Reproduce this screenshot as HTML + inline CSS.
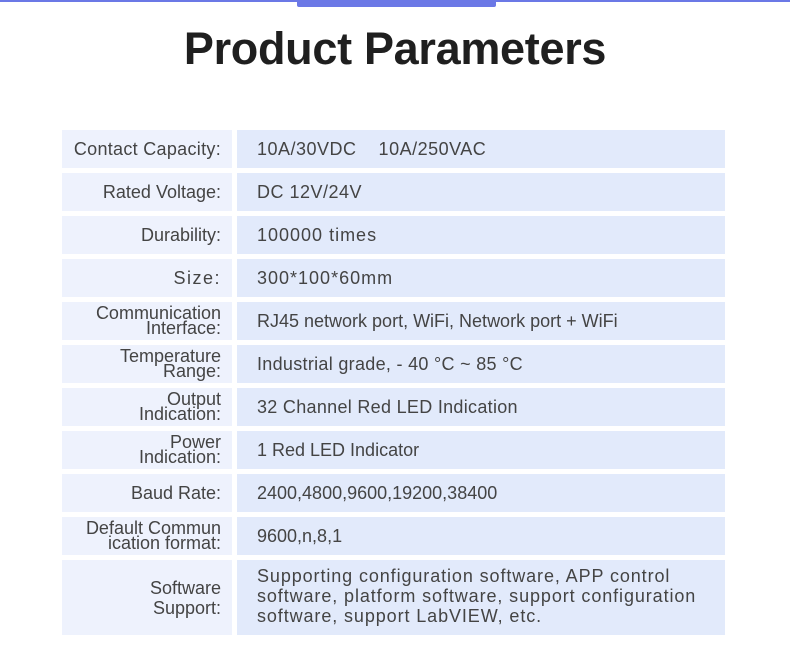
<!DOCTYPE html>
<html><head><meta charset="utf-8"><style>
*{margin:0;padding:0;box-sizing:border-box}
body{width:790px;height:669px;background:#fff;position:relative;overflow:hidden;font-family:"Liberation Sans",sans-serif;color:#444}
.topline{position:absolute;left:0;top:0;width:790px;height:2px;background:#6b78e6}
.tab{position:absolute;left:297px;top:0;width:199px;height:7px;background:#6b78e6;border-radius:0 0 2px 2px}
h1{position:absolute;top:23px;left:0;width:790px;text-align:center;font-size:45px;font-weight:bold;color:#1f1f1f;letter-spacing:-0.3px}
.l,.v{position:absolute;display:flex;align-items:center}
.l{left:62px;width:170px;background:#eef2fd;justify-content:flex-end;text-align:right;padding-right:11px;font-size:18px;line-height:15px;white-space:nowrap}
.v{left:237px;width:488px;background:#e2eafb;padding-left:20px;font-size:18px;line-height:20px}
</style></head><body>
<div class="topline"></div><div class="tab"></div>
<h1>Product Parameters</h1>

<div class="l" style="top:130px;height:38px;letter-spacing:0.3px">Contact Capacity:</div>
<div class="v" style="top:130px;height:38px;letter-spacing:0.5px">10A/30VDC&nbsp;&nbsp;&nbsp;&nbsp;10A/250VAC</div>

<div class="l" style="top:173px;height:38px">Rated Voltage:</div>
<div class="v" style="top:173px;height:38px;letter-spacing:0.5px">DC 12V/24V</div>

<div class="l" style="top:216px;height:38px">Durability:</div>
<div class="v" style="top:216px;height:38px;letter-spacing:1px">100000 times</div>

<div class="l" style="top:259px;height:38px;letter-spacing:1.5px">Size:</div>
<div class="v" style="top:259px;height:38px;letter-spacing:1px">300*100*60mm</div>

<div class="l" style="top:302px;height:38px">Communication<br>Interface:</div>
<div class="v" style="top:302px;height:38px">RJ45 network port, WiFi, Network port + WiFi</div>

<div class="l" style="top:345px;height:38px">Temperature<br>Range:</div>
<div class="v" style="top:345px;height:38px;letter-spacing:0.3px">Industrial grade, - 40 °C ~ 85 °C</div>

<div class="l" style="top:388px;height:38px">Output<br>Indication:</div>
<div class="v" style="top:388px;height:38px;letter-spacing:0.3px">32 Channel Red LED Indication</div>

<div class="l" style="top:431px;height:38px">Power<br>Indication:</div>
<div class="v" style="top:431px;height:38px">1 Red LED Indicator</div>

<div class="l" style="top:474px;height:38px">Baud Rate:</div>
<div class="v" style="top:474px;height:38px">2400,4800,9600,19200,38400</div>

<div class="l" style="top:517px;height:38px">Default Commun<br>ication format:</div>
<div class="v" style="top:517px;height:38px">9600,n,8,1</div>

<div class="l" style="top:560px;height:75px;line-height:20px">Software<br>Support:</div>
<div class="v" style="top:560px;height:75px;letter-spacing:0.9px;padding-bottom:3px">Supporting configuration software, APP control<br>software, platform software, support configuration<br>software, support LabVIEW, etc.</div>
</body></html>
